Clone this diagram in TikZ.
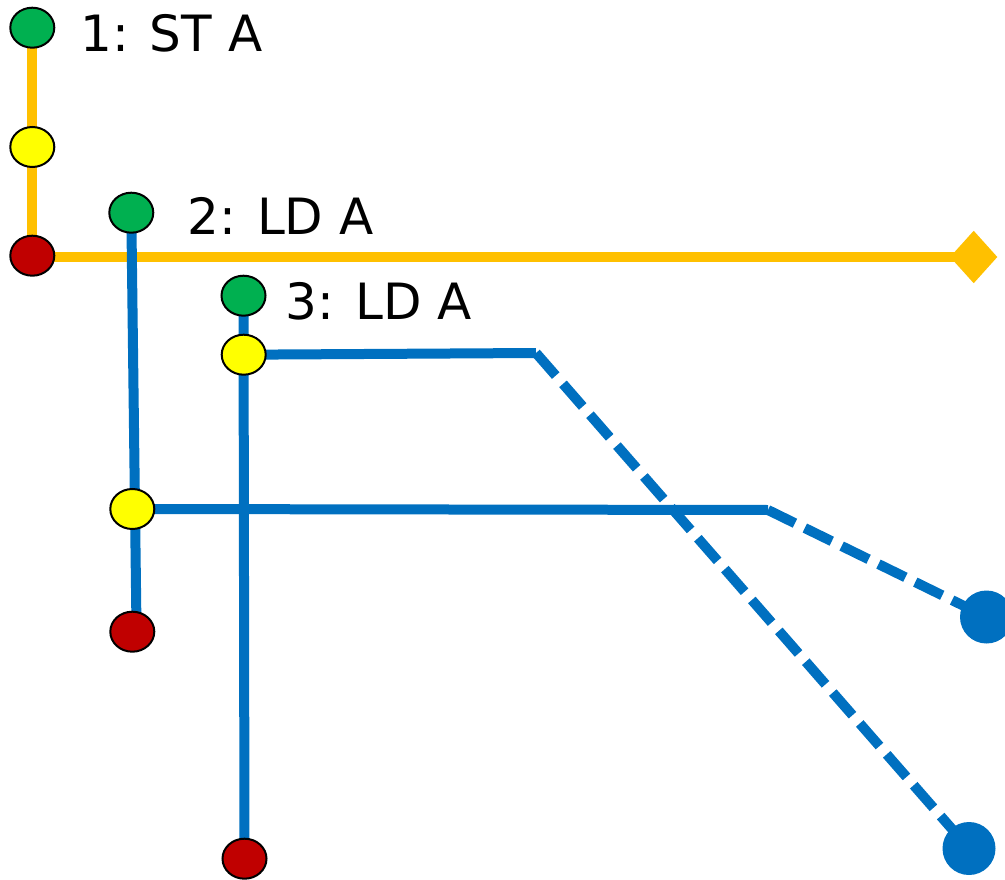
\documentclass[tikz,border=0pt]{standalone}
\usepackage{fontspec}
\setmainfont{DejaVu Sans}
\usetikzlibrary{shapes.geometric,backgrounds}
\definecolor{cgreen}{HTML}{00B050}
\definecolor{cyellow}{HTML}{FFFF00}
\definecolor{cred}{HTML}{C00000}
\definecolor{corange}{HTML}{FFC000}
\definecolor{cblue}{HTML}{0070C0}
\begin{document}
\begin{tikzpicture}[x=1pt,y=-1pt,
  dot/.style={ellipse,draw=black,line width=2pt,minimum width=44pt,minimum height=40pt,inner sep=0pt,outer sep=0pt},
  gdot/.style={dot,fill=cgreen},
  ydot/.style={dot,fill=cyellow},
  rdot/.style={dot,fill=cred},
  lbl/.style={anchor=base west,inner sep=0pt,font={\fontsize{50}{60}\selectfont}},
  oline/.style={draw=corange,line width=10pt},
  bline/.style={draw=cblue,line width=10pt},
  bdash/.style={bline,dash pattern=on 30pt off 11pt},
  enddot/.style={circle,fill=cblue,minimum size=53pt,inner sep=0pt},
  stopd/.style={diamond,fill=corange,minimum width=47.4pt,minimum height=52.6pt,inner sep=0pt}]
\useasboundingbox (0,0) rectangle (1005,880);
\node[gdot] (g1) at (32.3,27.7) {};
\node[ydot] (y1) at (32.3,147) {};
\node[rdot] (r1) at (32.3,255.7) {};
\node[stopd] (d1) at (973.7,257) {};
\node[gdot] (g2) at (131.3,212.7) {};
\node[ydot] (y2) at (132.3,509) {};
\node[rdot] (r2) at (132.3,631.7) {};
\node[gdot] (g3) at (243.5,295.7) {};
\node[ydot] (y3) at (243.7,354.7) {};
\node[rdot] (r3) at (244.5,858.7) {};
\node[enddot] (b2) at (986.5,617) {};
\node[enddot] (b3) at (969,848.5) {};
\coordinate (k2) at (768,510);
\coordinate (k3) at (536,353);
\coordinate (e2) at (136.5,628);
\node[lbl] (t1) at (80,51.3) {1: ST A};
\node[lbl] (t2) at (187,234.7) {2: LD A};
\node[lbl] (t3) at (285.5,319.3) {3: LD A};
\begin{scope}[on background layer]
\draw[oline] (g1.center) -- (g1.center |- d1.center) -- (d1.center);
\draw[bline] (g2.center) -- (e2);
\draw[bline] (y2.center) -- (k2);
\draw[bdash] (k2) -- (b2.center);
\draw[bline] (g3.center) -- (r3.center);
\draw[bline] (y3.center) -- (k3);
\draw[bdash] (k3) -- (b3.center);
\end{scope}
\end{tikzpicture}
\end{document}
